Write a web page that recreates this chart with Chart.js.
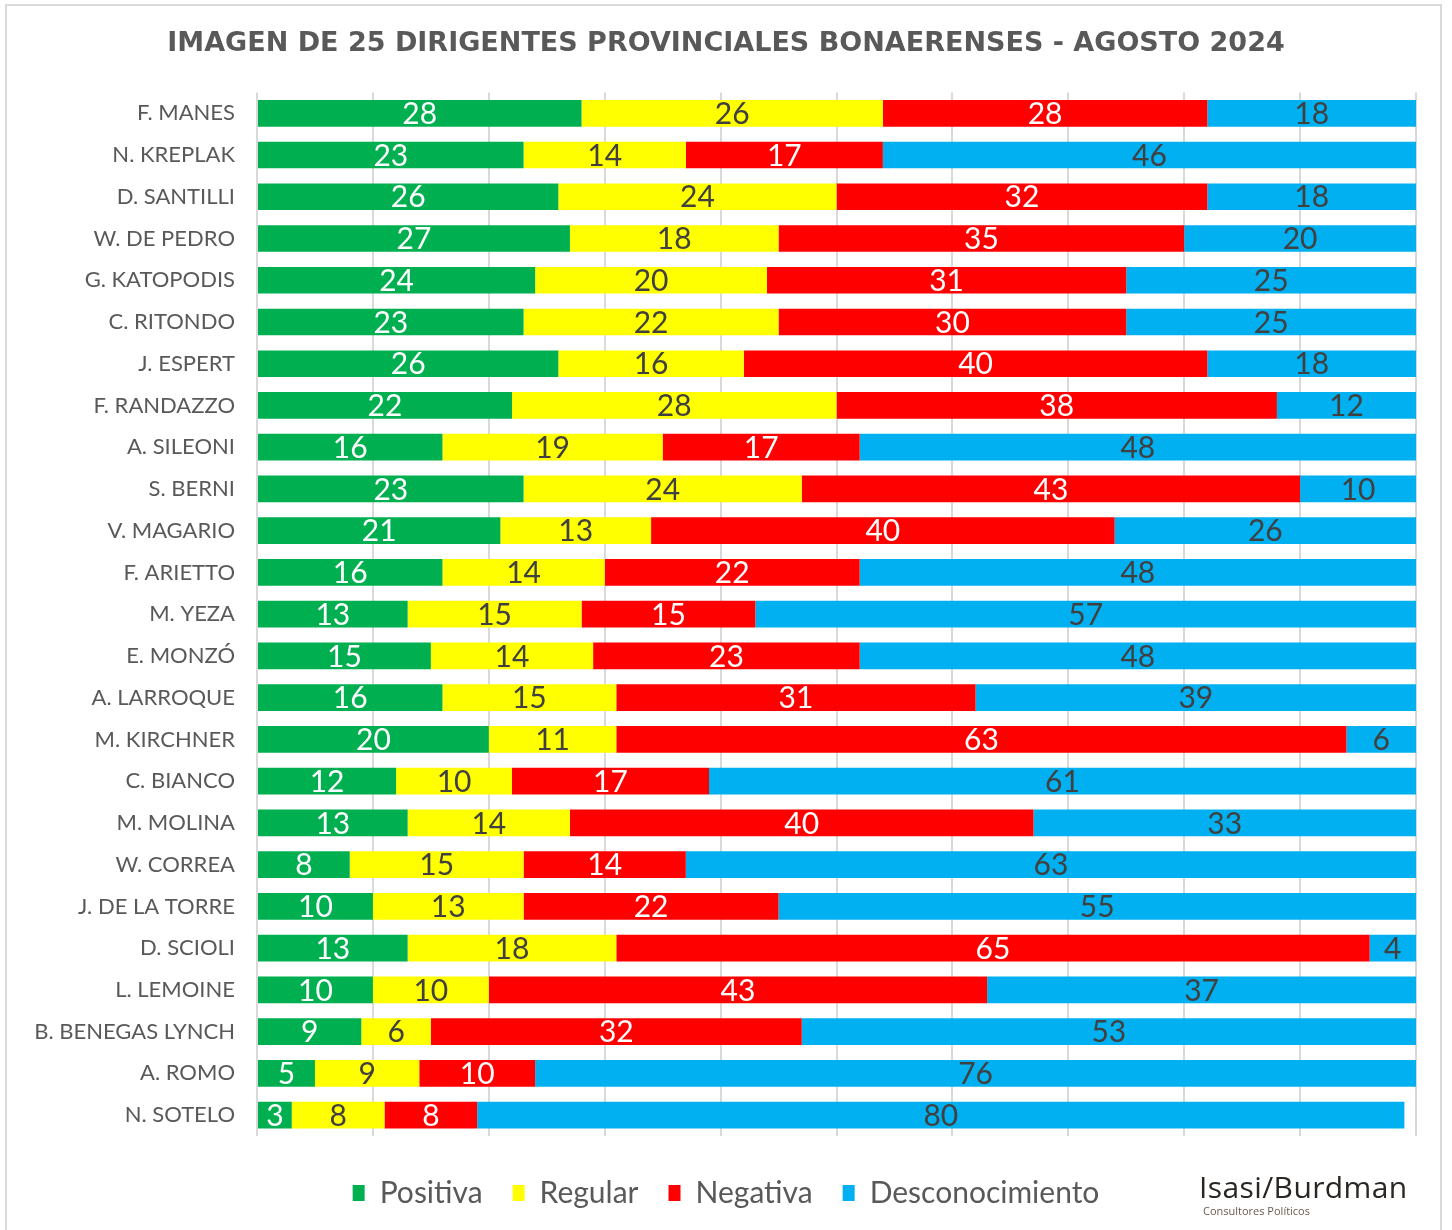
<!DOCTYPE html>
<html lang="es">
<head>
<meta charset="utf-8">
<title>Imagen de 25 dirigentes provinciales bonaerenses - Agosto 2024</title>
<script src="https://cdn.jsdelivr.net/npm/chart.js@4.4.1/dist/chart.umd.min.js"></script>
<style>
  html, body { margin: 0; padding: 0; background: #fff; }
  #wrap { position: relative; width: 1452px; height: 1230px; overflow: hidden; }
  #frame {
    position: absolute; left: 5px; top: 4px; width: 1437px; height: 1240px;
    border: 2px solid #d9d9d9; box-sizing: border-box;
  }
  #chart { position: absolute; left: 0; top: 0; }
  .brand { position: absolute; left: 1199px; top: 1169px; font-family: "Open Sans", sans-serif; color: #2b2622; }
  .brand .name { font-size: 30px; line-height: 35px; letter-spacing: 0.4px; }
  .brand .sub { font-size: 11px; line-height: 13px; margin-left: 4px; color: #6a5a4c; }
</style>
</head>
<body>
<div id="wrap">
  <div id="frame"></div>
  <canvas id="chart" width="1452" height="1230"></canvas>
  <div class="brand">
    <div class="name">Isasi/Burdman</div>
    <div class="sub">Consultores Políticos</div>
  </div>
</div>
<script>
const dirigentes = [
  "F. MANES", "N. KREPLAK", "D. SANTILLI", "W. DE PEDRO", "G. KATOPODIS",
  "C. RITONDO", "J. ESPERT", "F. RANDAZZO", "A. SILEONI", "S. BERNI",
  "V. MAGARIO", "F. ARIETTO", "M. YEZA", "E. MONZÓ", "A. LARROQUE",
  "M. KIRCHNER", "C. BIANCO", "M. MOLINA", "W. CORREA", "J. DE LA TORRE",
  "D. SCIOLI", "L. LEMOINE", "B. BENEGAS LYNCH", "A. ROMO", "N. SOTELO"
];
const positiva = [28, 23, 26, 27, 24, 23, 26, 22, 16, 23, 21, 16, 13, 15, 16, 20, 12, 13, 8, 10, 13, 10, 9, 5, 3];
const regular = [26, 14, 24, 18, 20, 22, 16, 28, 19, 24, 13, 14, 15, 14, 15, 11, 10, 14, 15, 13, 18, 10, 6, 9, 8];
const negativa = [28, 17, 32, 35, 31, 30, 40, 38, 17, 43, 40, 22, 15, 23, 31, 63, 17, 40, 14, 22, 65, 43, 32, 10, 8];
const desconocimiento = [18, 46, 18, 20, 25, 25, 18, 12, 48, 10, 26, 48, 57, 48, 39, 6, 61, 33, 63, 55, 4, 37, 53, 76, 80];

const seriesNames = ["Positiva", "Regular", "Negativa", "Desconocimiento"];
const seriesColors = ["#00b050", "#ffff00", "#ff0000", "#00b0f0"];
const labelColors = ["#ffffff", "#404040", "#ffffff", "#404040"];
const gray = "#595959";

// numbers written in the middle of each segment
const valueLabels = {
  id: "valueLabels",
  afterDatasetsDraw(chart) {
    const ctx = chart.ctx;
    ctx.save();
    ctx.font = "30px Lato";
    ctx.textAlign = "center";
    ctx.textBaseline = "middle";
    chart.data.datasets.forEach((ds, i) => {
      const meta = chart.getDatasetMeta(i);
      meta.data.forEach((bar, j) => {
        const p = bar.getProps(["x", "y", "base"], true);
        const right = Math.min(p.x, chart.chartArea.right);
        ctx.fillStyle = labelColors[i];
        ctx.fillText(ds.data[j], (right + p.base) / 2, p.y + 1);
      });
    });
    ctx.restore();
  },
};

const datasets = [positiva, regular, negativa, desconocimiento].map((values, i) => ({
  label: seriesNames[i],
  data: values,
  backgroundColor: seriesColors[i],
  borderWidth: 0,
  barPercentage: 0.64,
  categoryPercentage: 1,
}));

new Chart(document.getElementById("chart"), {
  type: "bar",
  data: { labels: dirigentes, datasets: datasets },
  plugins: [valueLabels],
  options: {
    indexAxis: "y",
    responsive: false,
    animation: false,
    layout: { padding: { left: 0, right: 0, top: 0, bottom: 12 } },
    scales: {
      x: {
        stacked: true,
        min: 0,
        max: 100,
        ticks: { display: false, stepSize: 10 },
        grid: { color: "#d9d9d9", lineWidth: 2, drawTicks: false },
        border: { display: false },
        afterFit: (scale) => { scale.height = 12; },
      },
      y: {
        stacked: true,
        grid: { display: false, drawTicks: false },
        border: { display: false },
        ticks: { color: gray, font: { family: "Lato", size: 22 }, padding: 22 },
        afterFit: (scale) => { scale.width = 257; },
      },
      rightGap: {
        type: "linear",
        position: "right",
        display: true,
        grid: { display: false, drawTicks: false },
        border: { display: false },
        ticks: { display: false },
        afterFit: (scale) => { scale.width = 36; },
      },
    },
    plugins: {
      title: {
        display: true,
        text: "IMAGEN DE 25 DIRIGENTES PROVINCIALES BONAERENSES - AGOSTO 2024",
        color: gray,
        font: { family: "DejaVu Sans", size: 27, weight: "bold" },
        padding: { top: 28, bottom: 32 },
      },
      legend: {
        position: "bottom",
        labels: {
          color: gray,
          font: { family: "Lato", size: 30 },
          boxWidth: 12,
          boxHeight: 16,
          padding: 30,
        },
      },
      tooltip: { enabled: false },
    },
  },
});
</script>
</body>
</html>
